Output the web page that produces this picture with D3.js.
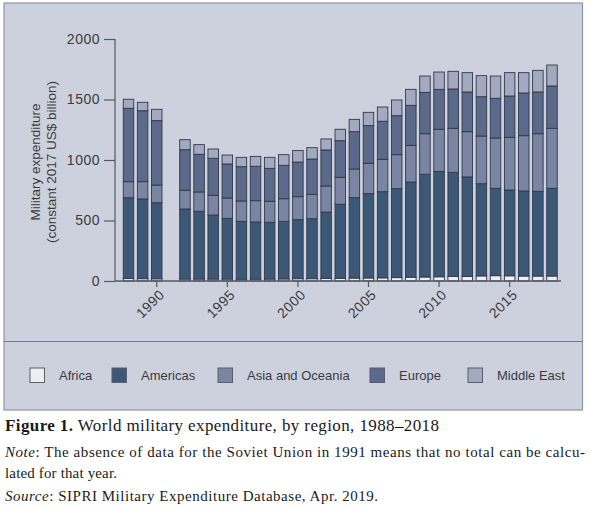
<!DOCTYPE html>
<html><head><meta charset="utf-8">
<script src="https://cdn.jsdelivr.net/npm/d3@7"></script>
<style>
html,body{margin:0;padding:0;background:#fff;}
svg{display:block;}
</style></head>
<body>
<svg id="chart" width="590" height="508"></svg>
<script>
// ---- data ----
const years = ["1988","1989","1990","1991","1992","1993","1994","1995","1996","1997","1998","1999","2000","2001","2002","2003","2004","2005","2006","2007","2008","2009","2010","2011","2012","2013","2014","2015","2016","2017","2018"];
const africa   = [20,19,18,null,16,16,16,16,15,15,16,17,19,19,21,22,24,25,26,28,31,33,35,37,38,42,44,43,41,41,41];
const americas = [668,659,629,null,579,560,529,502,478,473,469,476,488,496,549,612,665,697,712,735,787,849,871,861,822,762,722,709,703,700,725];
const asia     = [133,143,146,null,155,160,163,168,168,176,174,187,190,201,215,223,237,251,268,281,303,335,348,364,374,394,416,435,457,476,496];
const europe   = [606,586,532,null,335,311,306,281,284,284,272,276,286,292,298,303,308,311,314,322,331,342,330,325,328,325,328,342,353,345,350];
const middleEast=[75,70,94,null,83,80,77,74,77,82,91,88,95,94,91,94,102,110,118,130,132,135,143,146,160,174,184,193,168,179,173];
const seriesNames = ["Africa","Americas","Asia and Oceania","Europe","Middle East"];
const yTicks = [0,500,1000,1500,2000];
const xTickLabels = ["1990","1995","2000","2005","2010","2015"];
const yLabel = ["Military expenditure","(constant 2017 US$ billion)"];
const captionTitleBold = "Figure 1.";
const captionTitle = " World military expenditure, by region, 1988–2018";
const noteLines = [["Note",": The absence of data for the Soviet Union in 1991 means that no total can be calcu-"],["","lated for that year."]];
const sourceLine = ["Source",": SIPRI Military Expenditure Database, Apr. 2019."];

// ---- styles ----
const colors = ["#eeeff3","#3c5877","#7985a3","#5b698a","#a3aac0"];
const panelFill = "#cdd1dd";
const frameStroke = "#8c94a8";
const barStroke = "#30384a";
const sans = "'Liberation Sans', Arial, sans-serif";
const serif = "'Liberation Serif', 'Times New Roman', serif";

const svg = d3.select("#chart");

// panel
svg.append("rect").attr("x",4).attr("y",3).attr("width",578.5).attr("height",407)
  .attr("fill",panelFill).attr("stroke",frameStroke).attr("stroke-width",1.2);
svg.append("line").attr("x1",4).attr("x2",582.5).attr("y1",341.5).attr("y2",341.5)
  .attr("stroke","#6f7890").attr("stroke-width",1);

// scales
const x = d3.scaleBand().domain(years).range([121.44,559.06]).paddingInner(0.256).paddingOuter(0.128);
const y = d3.scaleLinear().domain([0,2000]).range([281,39]);

const table = years.map((yr,i)=>({year:yr, Africa:africa[i], Americas:americas[i], "Asia and Oceania":asia[i], Europe:europe[i], "Middle East":middleEast[i]}));
const stacked = d3.stack().keys(seriesNames).value((d,k)=>d[k]==null?NaN:d[k])(table);

const g = svg.append("g");
stacked.forEach((s,si)=>{
  g.append("g").selectAll("rect").data(s.filter(d=>!isNaN(d[1]))).join("rect")
    .attr("x",d=>x(d.data.year))
    .attr("width",x.bandwidth())
    .attr("y",d=>y(d[1]))
    .attr("height",d=>y(d[0])-y(d[1]))
    .attr("fill",colors[si])
    .attr("stroke",barStroke).attr("stroke-width",0.9);
});

// y axis
const yAxis = svg.append("g").attr("transform","translate(115,0)")
  .call(d3.axisLeft(y).tickValues(yTicks).tickSize(11).tickPadding(4).tickFormat(d3.format("d")));
yAxis.select(".domain").attr("stroke","#55595f").attr("stroke-width",1.2).attr("d","M0,"+y(2000)+"V"+y(0));
yAxis.selectAll(".tick line").attr("stroke","#55595f").attr("stroke-width",1.2);
yAxis.selectAll(".tick text").attr("fill","#3a3c40").style("font-family",sans).style("font-size","14px").style("letter-spacing","0.5px");

// x axis
const xAxis = svg.append("g").attr("transform","translate(0,"+y(0)+")")
  .call(d3.axisBottom(x).tickValues(xTickLabels).tickSize(6).tickSizeOuter(0));
xAxis.select(".domain").attr("stroke","#55595f").attr("stroke-width",1.5).attr("d","M115,0H561");
xAxis.selectAll(".tick line").attr("stroke","#55595f").attr("stroke-width",1.2);
xAxis.selectAll(".tick text").attr("fill","#3a3c40").style("font-family",sans).style("font-size","14px")
  .style("letter-spacing","0.5px")
  .attr("text-anchor","end").attr("dy",null).attr("y",null)
  .attr("transform","translate(6,12) rotate(-45)").attr("dominant-baseline","middle");

// y label
const yl = svg.append("text").attr("transform","translate(0,162) rotate(-90)")
  .attr("text-anchor","middle").attr("fill","#3a3c40").style("font-family",sans).style("font-size","13.5px");
yl.selectAll("tspan").data(yLabel).join("tspan").attr("x",0).attr("y",(d,i)=>40+i*15.5).text(d=>d);

// legend
const legX = [30,112,218,370,468];
const lg = svg.append("g");
seriesNames.forEach((n,i)=>{
  lg.append("rect").attr("x",legX[i]).attr("y",368).attr("width",14.5).attr("height",14.5)
    .attr("fill",colors[i]).attr("stroke","#5a5f6a").attr("stroke-width",1);
  lg.append("text").attr("x",legX[i]+29).attr("y",380).text(n)
    .attr("fill","#3a3c40").style("font-family",sans).style("font-size","13px");
});

// caption
const t1 = svg.append("text").attr("x",5).attr("y",431).attr("fill","#1a1a1a").style("font-family",serif).style("font-size","17px")
  .attr("textLength",434).attr("lengthAdjust","spacing");
t1.append("tspan").attr("font-weight","bold").text(captionTitleBold);
t1.append("tspan").text(captionTitle);

const noteY = [457,478];
const noteLen = [580,112];
noteLines.forEach((l,i)=>{
  const t = svg.append("text").attr("x",5).attr("y",noteY[i]).attr("fill","#1a1a1a").style("font-family",serif).style("font-size","15px")
    .attr("textLength",noteLen[i]).attr("lengthAdjust","spacing");
  if(l[0]) t.append("tspan").attr("font-style","italic").text(l[0]);
  t.append("tspan").text(l[1]);
});
const ts = svg.append("text").attr("x",5).attr("y",501).attr("fill","#1a1a1a").style("font-family",serif).style("font-size","15px")
  .attr("textLength",373).attr("lengthAdjust","spacing");
ts.append("tspan").attr("font-style","italic").text(sourceLine[0]);
ts.append("tspan").text(sourceLine[1]);
</script>
</body></html>
